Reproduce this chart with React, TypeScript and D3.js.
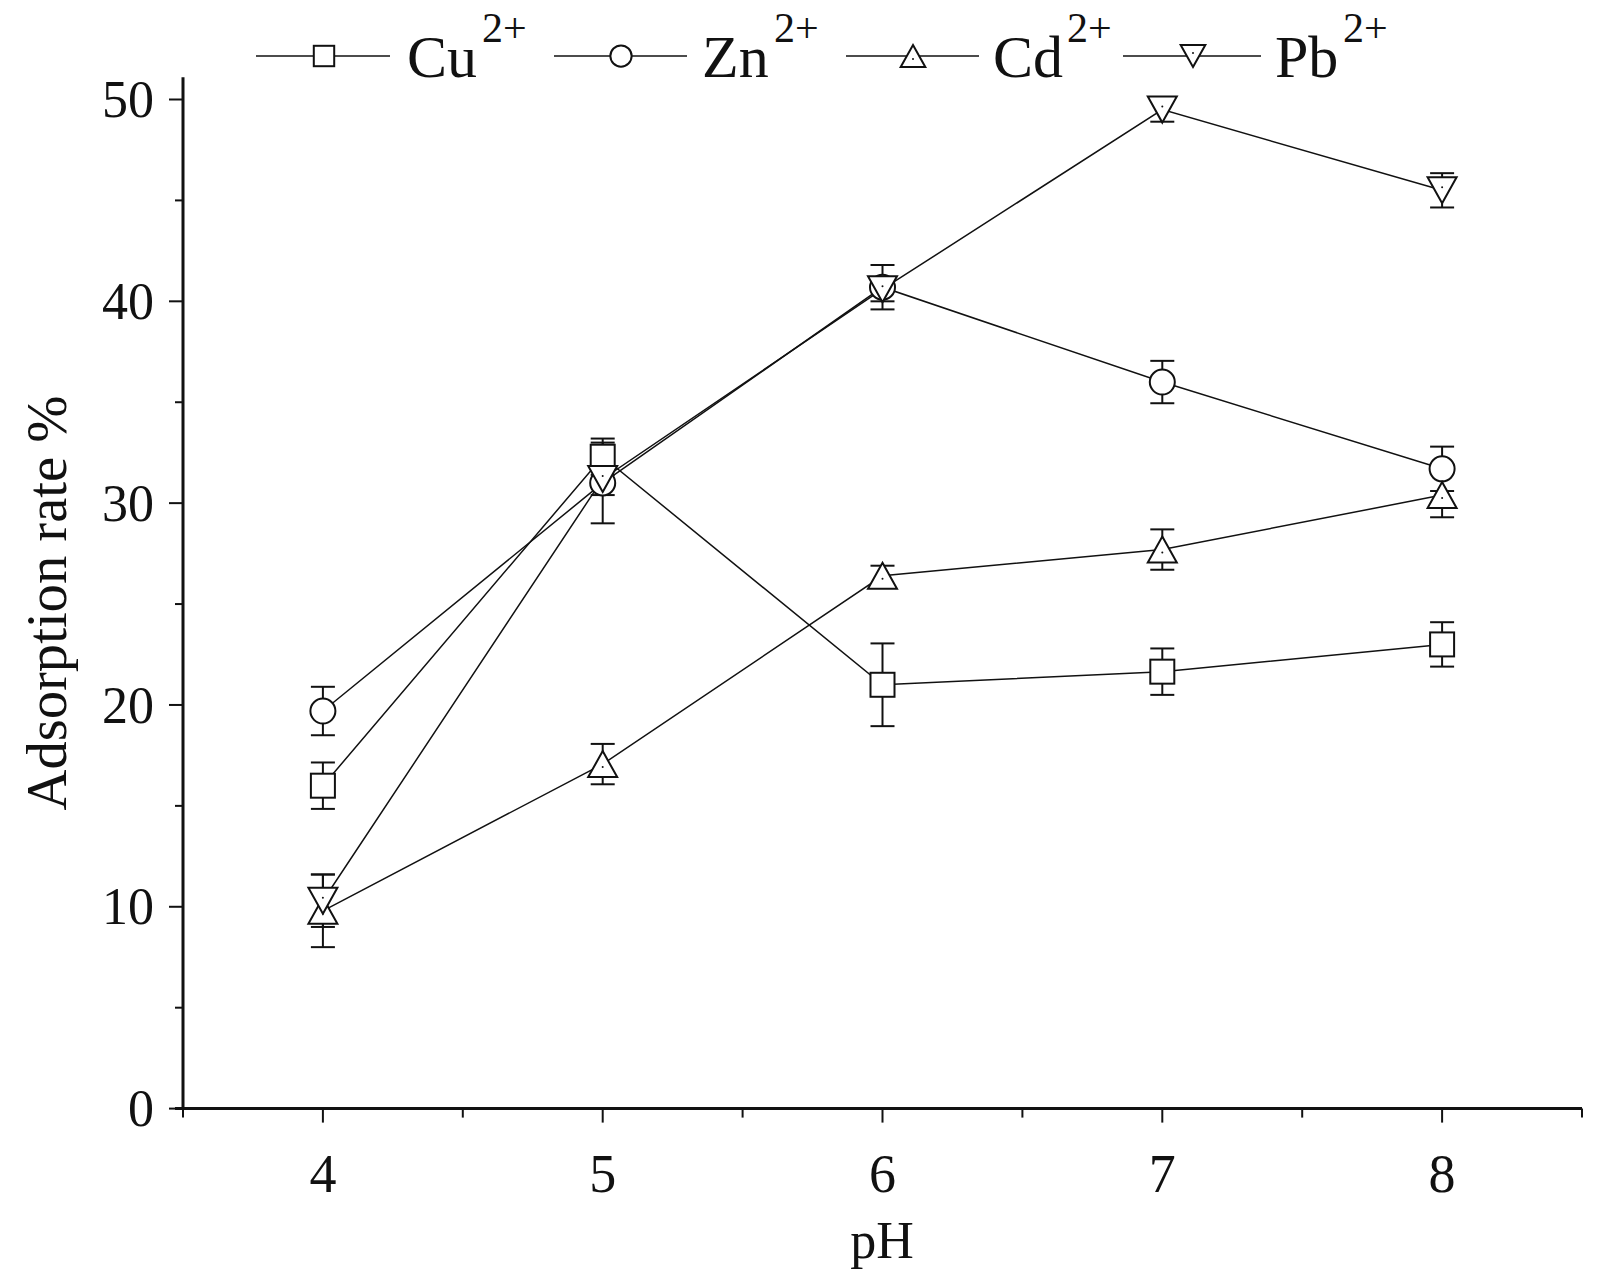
import React from "react";
import { scaleLinear, line } from "d3";

const phValues = [4, 5, 6, 7, 8];
const cuValues = [16.0, 32.3, 21.0, 21.65, 23.0];
const cuErrors = [1.15, 0.9, 2.05, 1.15, 1.1];
const znValues = [19.7, 31.0, 40.7, 36.0, 31.7];
const znErrors = [1.2, 2.0, 1.1, 1.05, 1.1];
const cdValues = [9.8, 17.07, 26.4, 27.7, 30.4];
const cdErrors = [1.8, 1.0, 0.5, 1.0, 1.1];
const pbValues = [10.3, 31.2, 40.6, 49.5, 45.5];
const pbErrors = [1.3, 0.8, 0.6, 0.6, 0.85];
const yTicks = [0, 10, 20, 30, 40, 50];
const yMinor = [5, 15, 25, 35, 45];
const xMinor = [3.5, 4.5, 5.5, 6.5, 7.5, 8.5];

const series = [
  { name: "Cu", marker: "square", values: cuValues, errors: cuErrors },
  { name: "Zn", marker: "circle", values: znValues, errors: znErrors },
  { name: "Cd", marker: "up", values: cdValues, errors: cdErrors },
  { name: "Pb", marker: "down", values: pbValues, errors: pbErrors },
];

const FONT = "'Liberation Serif', 'Times New Roman', serif";
const W = 1608;
const H = 1286;

function Marker({ type, x, y, k = 1 }: { type: string; x: number; y: number; k?: number }) {
  const common = { fill: "white", stroke: "#111", strokeWidth: 2 };
  if (type === "square") {
    const s = 24 * k;
    return <rect x={x - s / 2} y={y - s / 2} width={s} height={s} {...common} />;
  }
  if (type === "circle") {
    return <ellipse cx={x} cy={y} rx={12.5 * k} ry={12.5 * k} {...common} />;
  }
  const w = 29 * k;
  const h = 26 * k;
  const pts =
    type === "up"
      ? `${x},${y - h / 2} ${x + w / 2},${y + h / 2} ${x - w / 2},${y + h / 2}`
      : `${x},${y + h / 2} ${x + w / 2},${y - h / 2} ${x - w / 2},${y - h / 2}`;
  return (
    <g>
      <polygon points={pts} {...common} />
      <circle cx={x} cy={y + (type === "up" ? 3 : -3)} r={1} fill="#111" />
    </g>
  );
}

export default function App() {
  const x = scaleLinear().domain([3.5, 8.5]).range([183, 1582]);
  const y = scaleLinear().domain([0, 50]).range([1108.6, 99.5]);
  const yTop = y(51.1);
  const path = line<number>()
    .x((_, i) => x(phValues[i]))
    .y((d) => y(d));

  const legendItems = [
    { lx0: 256, lx1: 390, mx: 324, tx: 407, sx: 482 },
    { lx0: 554, lx1: 687, mx: 621, tx: 702, sx: 774 },
    { lx0: 846, lx1: 979, mx: 913, tx: 993, sx: 1067 },
    { lx0: 1123, lx1: 1261, mx: 1193, tx: 1275, sx: 1343 },
  ];
  const legendY = 56;

  return (
    <svg width={W} height={H} style={{ position: "absolute", left: 0, top: 0, background: "white" }}>
      <rect width={W} height={H} fill="white" />

      {/* axes */}
      <line x1={x(3.5)} x2={x(3.5)} y1={yTop} y2={y(0)} stroke="#111" strokeWidth={3} />
      <line x1={x(3.5) - 8} x2={x(8.5)} y1={y(0)} y2={y(0)} stroke="#111" strokeWidth={3} />
      {yTicks.map((t) => (
        <g key={"yt" + t}>
          <line x1={x(3.5) - 14} x2={x(3.5)} y1={y(t)} y2={y(t)} stroke="#111" strokeWidth={2} />
          <text x={154} y={y(t)} dy="0.34em" textAnchor="end" fontFamily={FONT} fontSize={52} fill="#111">
            {t}
          </text>
        </g>
      ))}
      {yMinor.map((t) => (
        <line key={"ym" + t} x1={x(3.5) - 8} x2={x(3.5)} y1={y(t)} y2={y(t)} stroke="#111" strokeWidth={2} />
      ))}
      {phValues.map((t) => (
        <g key={"xt" + t}>
          <line x1={x(t)} x2={x(t)} y1={y(0)} y2={y(0) + 14} stroke="#111" strokeWidth={2} />
          <text x={x(t)} y={1192} textAnchor="middle" fontFamily={FONT} fontSize={54} fill="#111">
            {t}
          </text>
        </g>
      ))}
      {xMinor.map((t) => (
        <line key={"xm" + t} x1={x(t)} x2={x(t)} y1={y(0)} y2={y(0) + 9} stroke="#111" strokeWidth={2} />
      ))}

      <text x={882} y={1258} textAnchor="middle" fontFamily={FONT} fontSize={52} fill="#111">
        pH
      </text>
      <text
        transform={`translate(66,603) rotate(-90)`}
        textAnchor="middle"
        fontFamily={FONT}
        fontSize={58}
        fill="#111"
        textLength={415}
        lengthAdjust="spacingAndGlyphs"
      >
        Adsorption rate %
      </text>

      {/* series lines */}
      {series.map((s) => (
        <path key={"l" + s.name} d={path(s.values) || ""} fill="none" stroke="#111" strokeWidth={1.5} />
      ))}

      {/* error bars */}
      {series.map((s) =>
        s.values.map((v, i) => {
          const cx = x(phValues[i]);
          const hi = y(v + s.errors[i]);
          const lo = y(v - s.errors[i]);
          return (
            <g key={"e" + s.name + i} stroke="#111" strokeWidth={2}>
              <line x1={cx} x2={cx} y1={hi} y2={lo} />
              <line x1={cx - 12} x2={cx + 12} y1={hi} y2={hi} />
              <line x1={cx - 12} x2={cx + 12} y1={lo} y2={lo} />
            </g>
          );
        })
      )}

      {/* markers */}
      {series.map((s) =>
        s.values.map((v, i) => (
          <Marker key={"m" + s.name + i} type={s.marker} x={x(phValues[i])} y={y(v)} />
        ))
      )}

      {/* legend */}
      {series.map((s, i) => {
        const it = legendItems[i];
        return (
          <g key={"lg" + s.name}>
            <line x1={it.lx0} x2={it.lx1} y1={legendY} y2={legendY} stroke="#111" strokeWidth={1.5} />
            <Marker type={s.marker} x={it.mx} y={legendY} k={0.85} />
            <text x={it.tx} y={77} fontFamily={FONT} fontSize={60} fill="#111">
              {s.name}
            </text>
            <text x={it.sx} y={42} fontFamily={FONT} fontSize={42} fill="#111">
              2+
            </text>
          </g>
        );
      })}
    </svg>
  );
}
